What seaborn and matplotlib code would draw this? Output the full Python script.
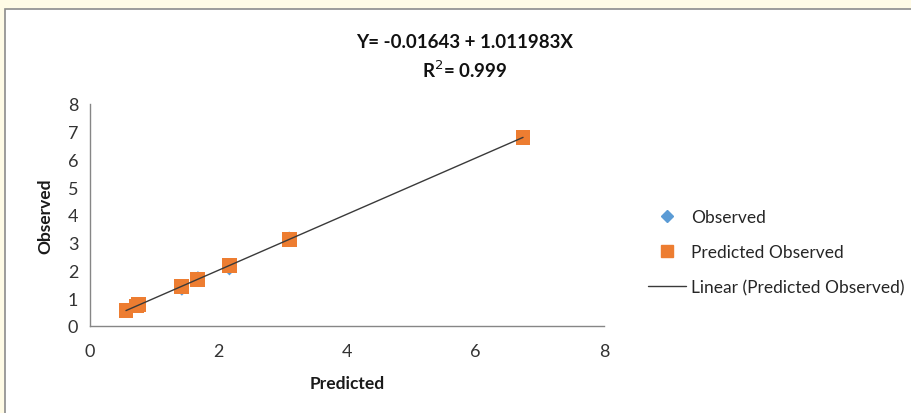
import matplotlib
matplotlib.use("Agg")
import matplotlib.pyplot as plt
import seaborn as sns
import pandas as pd
from matplotlib.patches import Rectangle
from matplotlib.lines import Line2D

predicted = [0.56, 0.73, 0.76, 1.43, 1.68, 2.17, 3.10, 6.74]
observed = [0.47, 0.68, 0.72, 1.25, 1.82, 1.98, 3.25, 6.80]
predicted_observed = [0.55, 0.72, 0.79, 1.42, 1.68, 2.18, 3.12, 6.80]

title_lines = ["Y= -0.01643 + 1.011983X", "R$^2$= 0.999"]
x_ticks = [0, 2, 4, 6, 8]
y_ticks = [0, 1, 2, 3, 4, 5, 6, 7, 8]

df = pd.DataFrame({"Predicted": predicted, "Observed": observed,
                   "PredObs": predicted_observed})

sns.set_style("white")
plt.rcParams["font.family"] = ["Lato", "DejaVu Sans"]

fig = plt.figure(figsize=(9.12, 4.14), dpi=100)
fig.patch.set_facecolor("#fffbe6")
fig.patches.append(Rectangle((5 / 912, -0.01), 1.0, 1 - 10 / 414 + 0.01,
                             transform=fig.transFigure, facecolor="white",
                             edgecolor="#8c8c8c", linewidth=1.2, zorder=-10))

ax = fig.add_axes([90 / 912, 1 - 327 / 414, 514 / 912, 222 / 414])
ax.set_facecolor("none")
ax.set_zorder(1)

blue = "#5b9bd5"
orange = "#ed7d31"

sns.scatterplot(data=df, x="Predicted", y="Observed", ax=ax, marker="D",
                color=blue, s=20, edgecolor="none", zorder=2)
sns.scatterplot(data=df, x="Predicted", y="PredObs", ax=ax, marker="s",
                color=orange, s=115, edgecolor="none", zorder=3)
sns.regplot(data=df, x="Predicted", y="PredObs", ax=ax, scatter=False,
            ci=None, truncate=True,
            line_kws={"color": "#3a3a3a", "linewidth": 1.0, "zorder": 4})

ax.set_xlim(0, 8)
ax.set_ylim(0, 8)
ax.set_xticks(x_ticks)
ax.set_yticks(y_ticks)
ax.tick_params(axis="both", direction="out", length=5, width=1,
               color="#868686", labelsize=13, labelcolor="#333333")
ax.tick_params(axis="x", pad=7)
for side in ["top", "right"]:
    ax.spines[side].set_visible(False)
for side in ["left", "bottom"]:
    ax.spines[side].set_color("#868686")
    ax.spines[side].set_linewidth(1)

ax.set_xlabel("Predicted", fontsize=12.5, fontweight="bold", color="#1a1a1a",
              labelpad=12)
ax.set_ylabel("Observed", fontsize=12.5, fontweight="bold", color="#1a1a1a",
              labelpad=10)

fig.text(465 / 912, 1 - 42 / 414, title_lines[0], ha="center", va="center",
         fontsize=13.5, fontweight="bold", color="#111111")
fig.text(465 / 912, 1 - 70 / 414, title_lines[1], ha="center", va="center",
         fontsize=13.5, fontweight="bold", color="#111111")

handles = [
    Line2D([], [], marker="D", color=blue, linestyle="none", markersize=6),
    Line2D([], [], marker="s", color=orange, linestyle="none", markersize=8),
    Line2D([], [], color="#3a3a3a", linewidth=1.0),
]
labels = ["Observed", "Predicted Observed", "Linear (Predicted Observed)"]
fig.legend(handles, labels, loc="center left",
           bbox_to_anchor=(632 / 912, 1 - 253 / 414), frameon=False,
           fontsize=12.5, labelspacing=1.1, handlelength=2.2,
           handletextpad=0.3, labelcolor="#262626")

fig.savefig("out.png", dpi=100, facecolor=fig.get_facecolor())
